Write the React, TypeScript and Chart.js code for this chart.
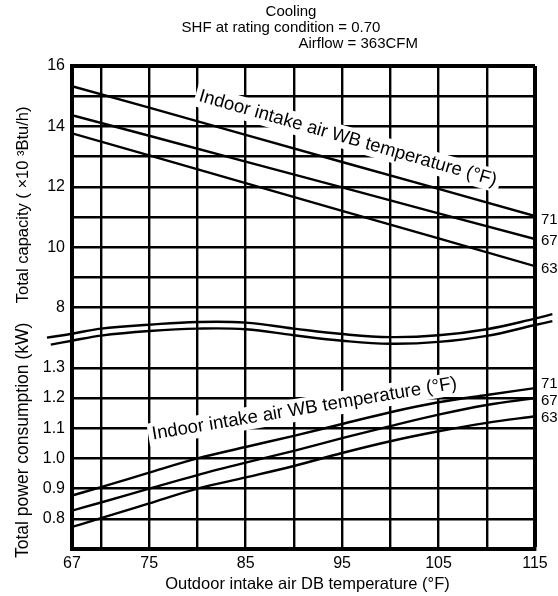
import React, { useEffect, useRef } from "react";
import { Chart, registerables } from "chart.js";

Chart.register(...registerables);

// ---- data ----
const capacityTemps = [67, 75, 85, 95, 105, 115];
const capacity71 = [15.33, 14.62, 13.72, 12.82, 11.93, 11.03];
const capacity67 = [14.37, 13.69, 12.83, 11.98, 11.12, 10.27];
const capacity63 = [13.77, 13.04, 12.12, 11.2, 10.29, 9.37];

const powerTemps = [67, 70, 75, 80, 85, 90, 95, 100, 105, 110, 115];
const power71 = [0.877, 0.905, 0.953, 1.0, 1.038, 1.075, 1.114, 1.153, 1.186, 1.21, 1.233];
const power67 = [0.827, 0.854, 0.9, 0.945, 0.986, 1.025, 1.067, 1.107, 1.145, 1.177, 1.2];
const power63 = [0.773, 0.802, 0.851, 0.9, 0.937, 0.975, 1.018, 1.057, 1.09, 1.118, 1.14];

const wbLabels = ["71", "67", "63"];

const xTickValues = [67, 70, 75, 80, 85, 90, 95, 100, 105, 110, 115];
const xTickLabels = ["67", "", "75", "", "85", "", "95", "", "105", "", "115"];
const capacityTicks = [8, 10, 12, 14, 16];
const powerTicks = [0.8, 0.9, 1.0, 1.1, 1.2, 1.3];

// axis break (wavy double line), in outdoor °F and combined-axis units (listed right to left)
const breakUpperX = [116.8, 115, 110, 105, 100, 95, 90, 85, 80, 75, 70, 67, 64.4];
const breakUpperY = [7.78, 7.63, 7.28, 7.08, 7.02, 7.12, 7.3, 7.5, 7.52, 7.43, 7.3, 7.13, 7.0];
const breakLowerX = [116.8, 115, 110, 105, 100, 95, 90, 85, 80, 75, 70, 67, 64.8];
const breakLowerY = [7.55, 7.42, 7.06, 6.86, 6.8, 6.9, 7.08, 7.28, 7.3, 7.22, 7.07, 6.9, 6.77];

const titleLines = ["Cooling", "SHF at rating condition = 0.70", "Airflow = 363CFM"];
const xTitle = "Outdoor intake air DB temperature (°F)";
const yTitleUpper = "Total capacity ( ×10 ³Btu/h)";
const yTitleLower = "Total power consumption (kW)";
const curveLabel = "Indoor intake air WB temperature (°F)";

// lower panel (kW) is placed on the combined axis below the break
const POWER_BASE = 0.7;
const powerToAxis = (kw: number) => (kw - POWER_BASE) * 10;

const FONT = "'Liberation Sans', Arial, Helvetica, sans-serif";
const LINE_W = 2.4;

const tickLabelMap: Record<number, string> = {};
capacityTicks.forEach((v) => (tickLabelMap[v] = String(v)));
powerTicks.forEach((v) => (tickLabelMap[Math.round(powerToAxis(v))] = v.toFixed(1)));

function pts(xs: number[], ys: number[]) {
  return xs.map((x, i) => ({ x, y: ys[i] }));
}

function lineDs(data: { x: number; y: number }[], extra: any = {}) {
  return {
    data,
    borderColor: "#000",
    borderWidth: LINE_W,
    pointRadius: 0,
    tension: 0,
    fill: false,
    ...extra,
  };
}

function labelBox(ctx: CanvasRenderingContext2D, text: string, cx: number, cy: number, angle: number, size: number, fillBox: boolean) {
  ctx.save();
  ctx.font = `${size}px ${FONT}`;
  ctx.translate(cx, cy);
  ctx.rotate((angle * Math.PI) / 180);
  const w = ctx.measureText(text).width;
  if (fillBox) {
    ctx.fillStyle = "#fff";
    ctx.fillRect(-w / 2 - 4, -size * 0.62, w + 8, size * 1.24);
  } else {
    ctx.fillStyle = "#000";
    ctx.textAlign = "center";
    ctx.textBaseline = "middle";
    ctx.fillText(text, 0, 0);
  }
  ctx.restore();
}

const UPPER_LABEL = { x: 95.6, y: 13.6, angle: 16, size: 18.5 };
const LOWER_LABEL = { x: 91.1, y: 4.64, angle: -9.5, size: 18.5 };

function drawCurveLabels(chart: any, fillBox: boolean) {
  const { ctx, scales } = chart;
  const xs = scales.x;
  const ys = scales.y;
  labelBox(ctx, curveLabel, xs.getPixelForValue(UPPER_LABEL.x), ys.getPixelForValue(UPPER_LABEL.y), UPPER_LABEL.angle, UPPER_LABEL.size, fillBox);
  labelBox(ctx, curveLabel, xs.getPixelForValue(LOWER_LABEL.x), ys.getPixelForValue(LOWER_LABEL.y), LOWER_LABEL.angle, LOWER_LABEL.size, fillBox);
}

function vText(ctx: CanvasRenderingContext2D, text: string, x: number, y: number, size: number) {
  ctx.save();
  ctx.fillStyle = "#000";
  ctx.font = `${size}px ${FONT}`;
  ctx.textAlign = "center";
  ctx.textBaseline = "middle";
  ctx.translate(x, y);
  ctx.rotate(-Math.PI / 2);
  ctx.fillText(text, 0, 0);
  ctx.restore();
}

const textPlugin = {
  id: "chartTexts",
  beforeDatasetsDraw(chart: any) {
    drawCurveLabels(chart, true);
  },
  afterDatasetsDraw(chart: any) {
    drawCurveLabels(chart, false);
    const { ctx, scales, chartArea } = chart;
    const xs = scales.x;
    const ys = scales.y;
    ctx.save();
    ctx.fillStyle = "#000";
    ctx.font = `15px ${FONT}`;
    ctx.textAlign = "left";
    ctx.textBaseline = "middle";
    const xEnd = xs.getPixelForValue(115);
    const upperEnds = [capacity71, capacity67, capacity63].map((a) => a[a.length - 1]);
    const upperDy = [4, 2, 3];
    upperEnds.forEach((v, i) => ctx.fillText(wbLabels[i], xEnd + 6, ys.getPixelForValue(v) + upperDy[i]));
    const lowerEnds = [power71, power67, power63].map((a) => powerToAxis(a[a.length - 1]));
    const lowerDy = [-4, 3, 2];
    lowerEnds.forEach((v, i) => ctx.fillText(wbLabels[i], xEnd + 6, ys.getPixelForValue(v) + lowerDy[i]));
    ctx.restore();

    // header
    ctx.save();
    ctx.fillStyle = "#000";
    ctx.font = `15px ${FONT}`;
    ctx.textBaseline = "middle";
    ctx.textAlign = "center";
    ctx.fillText(titleLines[0], 291, 12);
    ctx.fillText(titleLines[1], 281, 28);
    ctx.textAlign = "right";
    ctx.fillText(titleLines[2], 418, 44);
    ctx.restore();

    // axis titles
    ctx.save();
    ctx.fillStyle = "#000";
    ctx.font = `16.5px ${FONT}`;
    ctx.textAlign = "center";
    ctx.textBaseline = "middle";
    ctx.fillText(xTitle, (chartArea.left + chartArea.right) / 2 + 4, 584);
    ctx.restore();
    vText(ctx, yTitleUpper, 23, ys.getPixelForValue(11.4), 16.5);
    vText(ctx, yTitleLower, 23, ys.getPixelForValue(3.6), 17.5);
  },
};

export default function App() {
  const ref = useRef<HTMLCanvasElement | null>(null);

  useEffect(() => {
    if (!ref.current) return;
    const chart = new Chart(ref.current, {
      type: "line",
      data: {
        datasets: [
          lineDs(pts(capacityTemps, capacity71)),
          lineDs(pts(capacityTemps, capacity67)),
          lineDs(pts(capacityTemps, capacity63)),
          lineDs(pts(powerTemps, power71.map(powerToAxis)), { cubicInterpolationMode: "monotone" }),
          lineDs(pts(powerTemps, power67.map(powerToAxis)), { cubicInterpolationMode: "monotone" }),
          lineDs(pts(powerTemps, power63.map(powerToAxis)), { cubicInterpolationMode: "monotone" }),
          lineDs(pts(breakUpperX, breakUpperY), { tension: 0.4, clip: false }),
          lineDs(pts(breakLowerX, breakLowerY), { tension: 0.4, clip: false }),
        ],
      },
      options: {
        animation: false,
        responsive: true,
        maintainAspectRatio: false,
        layout: { padding: { top: 66, right: 23, left: 0, bottom: 0 } },
        plugins: { legend: { display: false }, tooltip: { enabled: false }, title: { display: false } },
        scales: {
          x: {
            type: "linear",
            min: 67,
            max: 115,
            afterBuildTicks: (scale: any) => {
              scale.ticks = xTickValues.map((v) => ({ value: v }));
            },
            afterFit: (scale: any) => {
              scale.height = 47;
            },
            ticks: {
              autoSkip: false,
              maxRotation: 0,
              padding: 5,
              color: "#000",
              font: { family: FONT, size: 16 },
              callback: (v: any) => {
                const i = xTickValues.indexOf(Number(v));
                return i >= 0 ? xTickLabels[i] : "";
              },
            },
            grid: {
              drawTicks: false,
              color: "#000",
              lineWidth: (c: any) => (c.tick && c.tick.value === 115 ? 4 : LINE_W),
            },
            border: { display: true, color: "#000", width: 4 },
          },
          y: {
            type: "linear",
            min: 0,
            max: 16,
            afterFit: (scale: any) => {
              scale.width = 72;
            },
            ticks: {
              stepSize: 1,
              autoSkip: false,
              padding: 7,
              color: "#000",
              font: { family: FONT, size: 16 },
              callback: (v: any) => tickLabelMap[Number(v)] ?? "",
            },
            grid: {
              drawTicks: false,
              color: (c: any) => (c.tick && c.tick.value === 7 ? "rgba(0,0,0,0)" : "#000"),
              lineWidth: (c: any) => (c.tick && c.tick.value === 16 ? 4 : LINE_W),
            },
            border: { display: true, color: "#000", width: 4 },
          },
        },
      },
      plugins: [textPlugin],
    });
    return () => chart.destroy();
  }, []);

  return (
    <div style={{ position: "absolute", left: 0, top: 0, width: 558, height: 596, background: "#fff" }}>
      <canvas ref={ref} />
    </div>
  );
}
